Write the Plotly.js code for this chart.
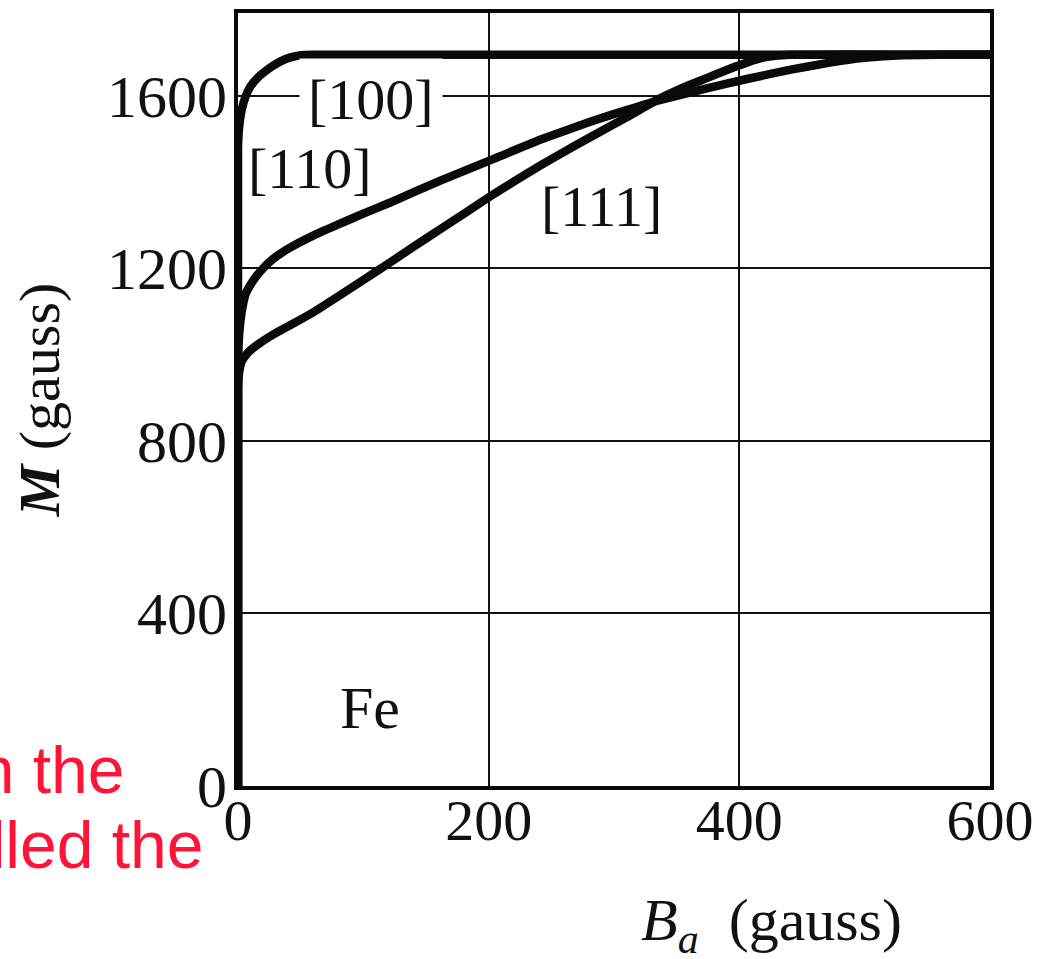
<!DOCTYPE html>
<html>
<head>
<meta charset="utf-8">
<script src="https://cdn.plot.ly/plotly-3.0.1.min.js"></script>
<style>
  html, body { margin: 0; padding: 0; background: #ffffff; }
  #chart { width: 1045px; height: 959px; }
</style>
</head>
<body>
<div id="chart"></div>
<script>
// Applied field B_a (gauss) and magnetization M (gauss) for Fe single crystal directions
const b100 = [0, 0, 1, 3, 6, 10, 15, 20, 27, 34, 42, 50, 60, 80, 600];
const m100 = [0, 1480, 1530, 1568, 1598, 1622, 1640, 1653, 1668, 1680, 1689, 1694, 1695, 1695, 1695];

const b110 = [0, 0, 1, 3, 6, 10, 15, 20, 28, 41.5, 60, 81, 100, 121, 161, 205, 241, 281, 310, 334, 374, 406, 440, 472, 500, 530, 560, 600];
const m110 = [0, 980, 1050, 1100, 1140, 1162, 1183, 1200, 1222, 1248, 1276, 1303, 1327, 1352, 1403, 1455, 1498, 1540, 1567, 1588, 1617, 1639, 1660, 1677, 1688, 1694, 1695, 1695];

const b111 = [0, 0, 1, 3, 8, 17.5, 30, 41.5, 60, 81, 100, 121, 140, 161, 183, 205, 241, 257, 281, 310, 334, 355, 374, 390, 406, 420, 440, 600];
const m111 = [0, 920, 960, 985, 1005, 1027, 1050, 1068, 1098, 1137, 1173, 1213, 1250, 1290, 1332, 1374, 1438, 1465, 1504, 1550, 1590, 1619, 1641, 1660, 1677, 1689, 1695, 1695];

const xTicks = [0, 200, 400, 600];
const yTicks = [0, 400, 800, 1200, 1600];

const curveLabels = ['[100]', '[110]', '[111]'];
const labelB = [106, 57, 290];
const labelM = [1592, 1431, 1343];

const serif = 'Liberation Serif, Times New Roman, serif';
const sans = 'Liberation Sans, Arial, sans-serif';
const lineStyle = {color: '#0a0a0a', width: 8.5, shape: 'spline', smoothing: 0.4};

const traces = [
  {x: b100, y: m100, name: curveLabels[0], mode: 'lines', line: lineStyle},
  {x: b110, y: m110, name: curveLabels[1], mode: 'lines', line: lineStyle},
  {x: b111, y: m111, name: curveLabels[2], mode: 'lines', line: lineStyle}
];

const annotations = [
  {x: labelB[0], y: labelM[0], xref: 'x', yref: 'y', text: curveLabels[0], showarrow: false,
   xanchor: 'center', yanchor: 'middle',
   font: {family: serif, size: 58, color: '#111'}, bgcolor: '#ffffff', borderpad: 8},
  {x: labelB[1], y: labelM[1], xref: 'x', yref: 'y', text: curveLabels[1], showarrow: false,
   xanchor: 'center', yanchor: 'middle',
   font: {family: serif, size: 58, color: '#111'}},
  {x: labelB[2], y: labelM[2], xref: 'x', yref: 'y', text: curveLabels[2], showarrow: false,
   xanchor: 'center', yanchor: 'middle',
   font: {family: serif, size: 58, color: '#111'}},
  {x: 105, y: 181, xref: 'x', yref: 'y', text: 'Fe', showarrow: false,
   xanchor: 'center', yanchor: 'middle',
   font: {family: serif, size: 60, color: '#111'}},
  {x: 0.709, y: -0.230, xref: 'paper', yref: 'paper', xanchor: 'center', yanchor: 'bottom',
   text: '<i>B</i><sub><i>a</i></sub>  (gauss)', showarrow: false,
   font: {family: serif, size: 60, color: '#111'}},
  {x: -0.149, y: -0.0304, xref: 'paper', yref: 'paper', xanchor: 'right', yanchor: 'bottom',
   text: 'in the', showarrow: false,
   font: {family: sans, size: 66, color: '#ff1438'}},
  {x: -0.0426, y: -0.1274, xref: 'paper', yref: 'paper', xanchor: 'right', yanchor: 'bottom',
   text: 'called the', showarrow: false,
   font: {family: sans, size: 66, color: '#ff1438'}}
];

const layout = {
  width: 1045, height: 959,
  margin: {l: 238, r: 55, t: 13, b: 173},
  paper_bgcolor: '#ffffff',
  plot_bgcolor: '#ffffff',
  showlegend: false,
  xaxis: {
    range: [0, 600],
    tickvals: xTicks, ticktext: xTicks.map(String),
    ticks: '', showgrid: true, gridcolor: '#111', gridwidth: 2,
    zeroline: false, showline: true, linecolor: '#0a0a0a', linewidth: 4, mirror: true,
    tickfont: {family: serif, size: 58, color: '#111'},
    ticklabelstandoff: -20
  },
  yaxis: {
    range: [0, 1792],
    tickvals: yTicks, ticktext: yTicks.map(String),
    ticks: '', showgrid: true, gridcolor: '#111', gridwidth: 2,
    zeroline: false, showline: true, linecolor: '#0a0a0a', linewidth: 4, mirror: true,
    tickfont: {family: serif, size: 60, color: '#111'},
    ticklabelstandoff: -5,
    title: {text: '<b><i>M</i></b> (gauss)', font: {family: serif, size: 58, color: '#111'}, standoff: 30}
  },
  annotations: annotations
};

Plotly.newPlot('chart', traces, layout, {staticPlot: true, displayModeBar: false});
</script>
</body>
</html>
